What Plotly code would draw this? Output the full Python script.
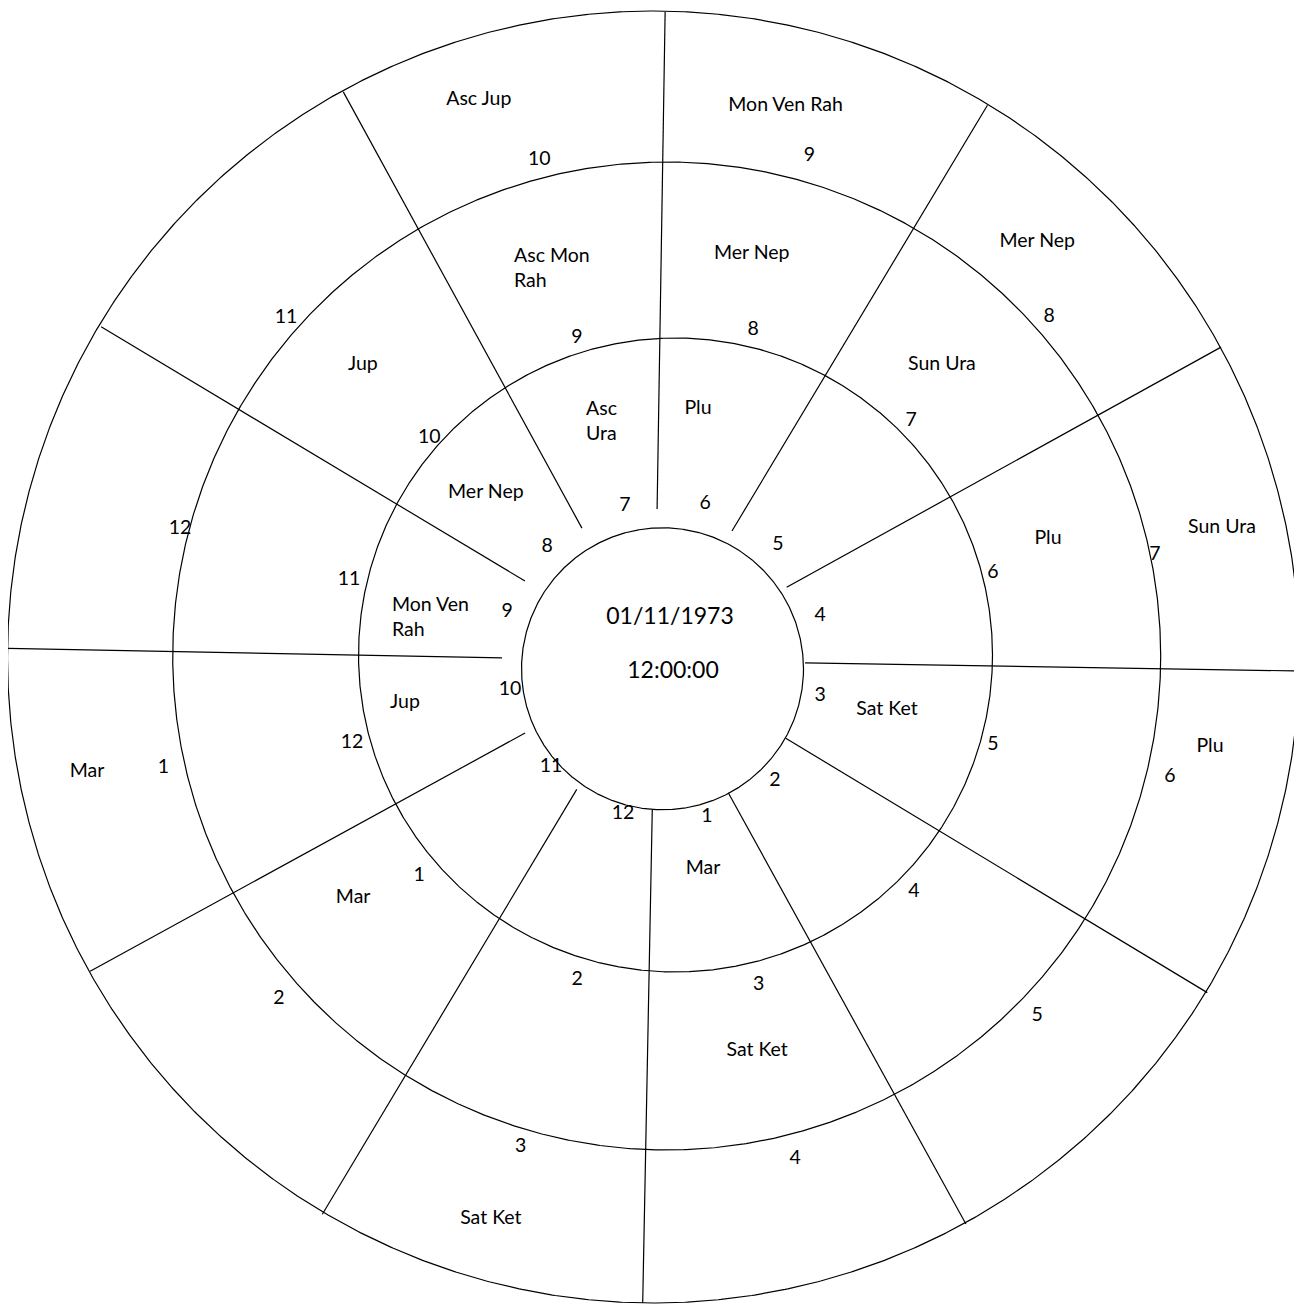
import numpy as np
import plotly.graph_objects as go

# ---------------- data ----------------
date_text = "01/11/1973"
time_text = "12:00:00"

# sectors listed clockwise, starting with the one just left of the top line
ring1_houses = ["7", "6", "5", "4", "3", "2", "1", "12", "11", "10", "9", "8"]
ring1_planets = ["Asc<br>Ura", "Plu", "", "", "Sat Ket", "", "Mar", "", "", "Jup", "Mon Ven<br>Rah", "Mer Nep"]

ring2_houses = ["9", "8", "7", "6", "5", "4", "3", "2", "1", "12", "11", "10"]
ring2_planets = ["Asc Mon<br>Rah", "Mer Nep", "Sun Ura", "Plu", "", "", "Sat Ket", "", "Mar", "", "", "Jup"]

ring3_houses = ["10", "9", "8", "7", "6", "5", "4", "3", "2", "1", "12", "11"]
ring3_planets = ["Asc Jup", "Mon Ven Rah", "Mer Nep", "Sun Ura", "Plu", "", "", "Sat Ket", "", "Mar", "", ""]

# ---------------- geometry (placement, separate from data) ----------------
# circles: centre offset (x, y) and radius
circle_cx = [-1.5, 11.5, 2.7, -10.5]
circle_cy = [-7.8, 6.0, 5.0, 4.0]
circle_r = [141, 317, 494, 646]

# radial divider lines: inner/outer angle (deg) and radius
line_ang_in = [92.6, 62.4, 31.0, -0.8, -32.4, -64.0, -94.5, -124.2, -152.6, 178.9, 150.1, 121.7]
line_r_in = [152.2, 146.7, 143.1, 141.0, 144.2, 146.6, 149.5, 155.2, 156.5, 162.0, 160.4, 156.2]
line_ang_out = [89.9, 59.8, 29.4, -0.9, -31.4, -61.8, -91.9, -121.7, -151.6, 178.9, 149.3, 119.4]
line_r_out = [649, 643, 639.4, 635.1, 636.5, 638.9, 642.4, 650.2, 652.4, 656.1, 654.6, 653.3]

# label placements (angle deg, radius)
r1_num_ang = [103.95, 75.5, 46.0, 16.8, -11.9, -46.8, -74.4, -105.2, -137.4, -170.1, 162.0, 135.2]
r1_num_rad = [161.8, 164.2, 164, 163, 159.5, 162, 160, 156.5, 153.6, 156.3, 165, 164.8]
r1_pl_ang = [104.5, 82.4, 0, 0, -11.7, 0, -79.3, 0, 0, -171.4, 168.6, 136.2]
r1_pl_rad = [251, 257, 0, 0, 227.7, 0, 209.7, 0, 0, 262, 238.7, 246.8]

r2_num_ang = [105.0, 75.0, 44.5, 15.3, -14.0, -42.4, -73.6, -105.3, -139.1, -165.6, 165.1, 136.2]
r2_num_rad = [336.4, 344.7, 346.5, 341, 339, 338.4, 335.7, 328.7, 324, 322, 326, 325.3]
r2_pl_ang = [105.8, 77.9, 47.0, 18.0, 0, 0, -76.5, 0, -143.0, 0, 0, 135.3]
r2_pl_rad = [412.5, 418.3, 407.5, 403.8, 0, 0, 399, 0, 389.2, 0, 0, 423.6]

r3_num_ang = [103.9, 74.0, 42.0, 12.4, -12.7, -43.4, -75.2, -106.5, -138.9, -168.2, 164.5, 137.6]
r3_num_rad = [518.8, 527.5, 518.3, 502.7, 518.7, 513.6, 513, 504.7, 511, 511.5, 502.2, 511.8]
r3_pl_ang = [108.2, 77.7, 48.5, 13.6, -8.75, 0, 0, -107.3, 0, -169.3, 0, 0]
r3_pl_rad = [593, 570.8, 563.2, 574.1, 552.4, 0, 0, 582.3, 0, 587.2, 0, 0]

center_ang = [82.4, -45.0]
center_rad = [45.4, 12.7]

FONT = "Lato, Open Sans, sans-serif"
LBL_SIZE = 19.5
CTR_SIZE = 23
INK = "#000000"
TEXT_DROP = 2.5   # small vertical nudge for text baseline


def pol(ang, rad):
    a = np.radians(np.asarray(ang, dtype=float))
    r = np.asarray(rad, dtype=float)
    return r * np.cos(a), r * np.sin(a)


fig = go.Figure()

# circles
t = np.linspace(0, 2 * np.pi, 1441)
for cx, cy, r in zip(circle_cx, circle_cy, circle_r):
    fig.add_trace(go.Scatter(x=cx + r * np.cos(t), y=cy + r * np.sin(t), mode="lines",
                             line=dict(color=INK, width=1.2), hoverinfo="skip", showlegend=False))

# divider lines
xi, yi = pol(line_ang_in, line_r_in)
xo, yo = pol(line_ang_out, line_r_out)
lx, ly = [], []
for a, b, c, d in zip(xi, yi, xo, yo):
    lx += [a, c, None]
    ly += [b, d, None]
fig.add_trace(go.Scatter(x=lx, y=ly, mode="lines", line=dict(color=INK, width=1.2),
                         hoverinfo="skip", showlegend=False))

# labels
single_x, single_y, single_t = [], [], []
multi = []
rings = [
    (ring1_houses, ring1_planets, r1_num_ang, r1_num_rad, r1_pl_ang, r1_pl_rad),
    (ring2_houses, ring2_planets, r2_num_ang, r2_num_rad, r2_pl_ang, r2_pl_rad),
    (ring3_houses, ring3_planets, r3_num_ang, r3_num_rad, r3_pl_ang, r3_pl_rad),
]
for houses, planets, na, nr, pa, pr in rings:
    x, y = pol(na, nr)
    single_x += list(x)
    single_y += list(y - TEXT_DROP)
    single_t += houses
    x, y = pol(pa, pr)
    for txt, px, py in zip(planets, x, y - TEXT_DROP):
        if not txt:
            continue
        if "<br>" in txt:
            multi.append((txt, px, py))
        else:
            single_x.append(px)
            single_y.append(py)
            single_t.append(txt)

fig.add_trace(go.Scatter(x=single_x, y=single_y, text=single_t, mode="text",
                         textfont=dict(family=FONT, size=LBL_SIZE, color=INK),
                         hoverinfo="skip", showlegend=False))

for txt, px, py in multi:
    fig.add_annotation(x=px, y=py, xref="x", yref="y", text=txt, showarrow=False,
                       align="left", font=dict(family=FONT, size=LBL_SIZE, color=INK))

cx_, cy_ = pol(center_ang, center_rad)
fig.add_trace(go.Scatter(x=cx_, y=cy_ - TEXT_DROP, text=[date_text, time_text], mode="text",
                         textfont=dict(family=FONT, size=CTR_SIZE, color=INK),
                         hoverinfo="skip", showlegend=False))

# the page places the figure 8px in from the top-left corner
fig.update_layout(
    width=1294, height=1296,
    margin=dict(l=0, r=0, t=0, b=0),
    paper_bgcolor="white", plot_bgcolor="white",
    xaxis=dict(range=[-656, 638], visible=False, fixedrange=True),
    yaxis=dict(range=[-643, 653], visible=False, fixedrange=True),
    showlegend=False,
)

fig.write_html("out.html")
